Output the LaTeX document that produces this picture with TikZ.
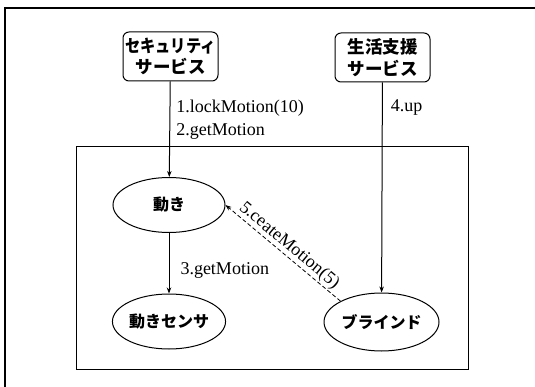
\documentclass[tikz,border=0pt]{standalone}
\usepackage{fontspec}
\setmainfont{Liberation Serif}
\newfontfamily\jp{Noto Sans CJK JP}
\usetikzlibrary{shapes.geometric,arrows.meta}
\begin{document}
\begin{tikzpicture}[x=1pt,y=-1pt,
  svc/.style={draw,rounded corners=6pt,line width=1pt,minimum width=95pt,minimum height=49pt,
    inner sep=0pt,align=center,font=\jp\bfseries\fontsize{17.5}{21.5}\selectfont},
  obj/.style={draw,ellipse,line width=1pt,minimum width=112pt,minimum height=55pt,inner sep=0pt,
    font=\jp\bfseries\fontsize{16}{19}\selectfont},
  msg/.style={font=\fontsize{18}{22.5}\selectfont,inner sep=0pt,align=left},
  call/.style={-{Stealth[length=6pt,width=4.5pt]},line width=1pt},
  ret/.style={-{Stealth[length=6pt,width=4.5pt]},line width=0.8pt,dash pattern=on 4pt off 2.5pt}]
\useasboundingbox (0,0) rectangle (535,387);
\coordinate (fa) at (535,8);
\coordinate (fb) at (5,8);
\coordinate (fc) at (5,387);
\draw[line width=1.6pt] (fa) -- (fb) -- (fc);
\node[draw,line width=1pt,minimum width=392pt,minimum height=222pt,inner sep=0pt] (sys) at (272,258) {};
\node[svc] (sec) at (170.5,56.5) {\scalebox{0.87}[1]{セキュリティ}\\サービス};
\node[svc] (life) at (382.5,57.5) {生活支援\\サービス};
\node[obj] (mot) at (169,205) {動き};
\node[obj] (sen) at (169,321.5) {動きセンサ};
\node[obj,minimum width=115pt,minimum height=58pt] (bl) at (381.5,322) {ブラインド};
\draw[call] (sec) -- (mot) node[msg,pos=0.4,anchor=west,xshift=6pt] {1.lockMotion(10)\\2.getMotion};
\draw[call] (life) -- (bl) node[msg,pos=0.12,anchor=west,xshift=8pt] {4.up};
\draw[call] (mot) -- (sen) node[msg,pos=0.62,anchor=west,xshift=11pt] {3.getMotion};
\draw[ret] (bl.north west) -- (mot.east) node[msg,midway,sloped,above,yshift=1pt] {5.ceateMotion(5)};
\end{tikzpicture}
\end{document}
